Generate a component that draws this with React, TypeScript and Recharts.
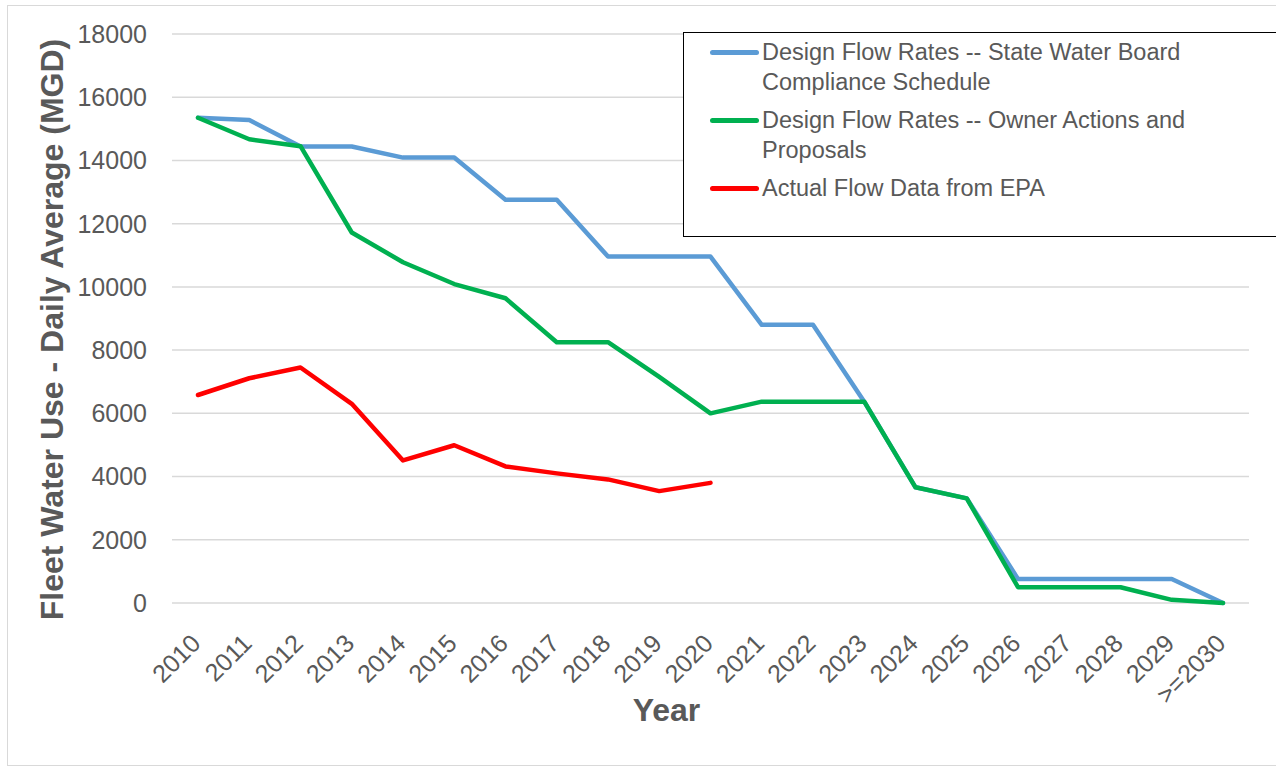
import { LineChart, Line, XAxis, YAxis, CartesianGrid, Label } from 'recharts';

const FONT = '"Liberation Sans", Arial, sans-serif';
const TEXT = '#595959';
const GRID = '#d9d9d9';

const YEARS = [
  '2010', '2011', '2012', '2013', '2014', '2015', '2016', '2017', '2018', '2019', '2020',
  '2021', '2022', '2023', '2024', '2025', '2026', '2027', '2028', '2029', '>=2030'
];

// Design Flow Rates -- State Water Board Compliance Schedule
const STATE_BOARD = [
  15350, 15280, 14440, 14440, 14090, 14090, 12760, 12760, 10960, 10960, 10960,
  8800, 8800, 6370, 3660, 3310, 760, 760, 760, 760, 0
];

// Design Flow Rates -- Owner Actions and Proposals
const OWNER_ACTIONS = [
  15350, 14670, 14450, 11720, 10780, 10090, 9640, 8250, 8250, 7150, 6000,
  6370, 6370, 6370, 3660, 3310, 500, 500, 500, 100, 0
];

// Actual Flow Data from EPA (ends in 2020)
const EPA_ACTUAL = [6580, 7110, 7450, 6300, 4510, 4990, 4320, 4100, 3910, 3540, 3800];

const Y_TICKS = [0, 2000, 4000, 6000, 8000, 10000, 12000, 14000, 16000, 18000];

const SERIES = [
  { key: 'stateBoard', name: 'Design Flow Rates -- State Water Board Compliance Schedule', color: '#5b9bd5' },
  { key: 'ownerActions', name: 'Design Flow Rates -- Owner Actions and Proposals', color: '#00b050' },
  { key: 'epa', name: 'Actual Flow Data from EPA', color: '#ff0000' }
];

const data = YEARS.map((year, i) => ({
  year,
  stateBoard: STATE_BOARD[i],
  ownerActions: OWNER_ACTIONS[i],
  epa: i < EPA_ACTUAL.length ? EPA_ACTUAL[i] : null
}));

function YearTick({ x, y, payload }: any) {
  const ax = x + 4;
  const ay = y + 34;
  return (
    <text
      x={ax} y={ay} textAnchor="end" fill={TEXT}
      fontSize={25} fontFamily={FONT}
      transform={`rotate(-45, ${ax}, ${ay})`}
    >
      {payload.value}
    </text>
  );
}

// legend drawn as a plain box so it does not shrink the plot area
function LegendBox() {
  return (
    <div style={{
      position: 'absolute', left: 683, top: 32, width: 620, height: 205,
      border: '1.5px solid #000', background: '#fff',
      boxSizing: 'border-box', paddingTop: 4, fontFamily: FONT, fontSize: 23.5, color: TEXT
    }}>
      {SERIES.map(s => (
        <div key={s.key} style={{ display: 'flex', alignItems: 'flex-start', marginBottom: 8 }}>
          <div style={{ width: 78, height: 30, position: 'relative', flex: 'none' }}>
            <div style={{
              position: 'absolute', left: 26, top: 13, width: 49, height: 5,
              borderRadius: 3, background: s.color
            }} />
          </div>
          <div style={{ width: 490, lineHeight: '30px' }}>{s.name}</div>
        </div>
      ))}
    </div>
  );
}

export default function App() {
  return (
    <div style={{
      position: 'absolute', left: 0, top: 0, width: 1276, height: 768,
      overflow: 'hidden', background: '#fff'
    }}>
      <div style={{
        position: 'absolute', left: 7, top: 5, width: 1300, height: 761,
        border: `1.5px solid ${GRID}`, boxSizing: 'border-box'
      }} />
      <LineChart
        width={1276} height={768} data={data}
        margin={{ top: 34, right: 27, left: 0, bottom: 0 }}
        style={{ position: 'absolute', left: 0, top: 0 }}
      >
        <CartesianGrid vertical={false} stroke={GRID} strokeWidth={1.5} />
        <XAxis
          dataKey="year" interval={0} height={165}
          padding={{ left: 26, right: 26 }}
          axisLine={false} tickLine={false} tick={<YearTick />}
        >
          <Label
            content={({ viewBox }: any) => (
              <text
                x={viewBox.x + viewBox.width / 2 - 44} y={viewBox.y + 107}
                textAnchor="middle" dominantBaseline="central"
                fill={TEXT} fontSize={32} fontWeight="bold" fontFamily={FONT}
              >
                Year
              </text>
            )}
          />
        </XAxis>
        <YAxis
          width={172} domain={[0, 18000]} ticks={Y_TICKS} interval={0}
          axisLine={false} tickLine={false} tickSize={6} tickMargin={19}
          tick={{ fill: TEXT, fontSize: 25, fontFamily: FONT }}
        >
          <Label
            content={({ viewBox }: any) => {
              const cx = 52;
              const cy = viewBox.y + viewBox.height / 2 + 11;
              return (
                <text
                  x={cx} y={cy} textAnchor="middle" dominantBaseline="central"
                  transform={`rotate(-90, ${cx}, ${cy})`}
                  fill={TEXT} fontSize={32} fontWeight="bold" fontFamily={FONT}
                >
                  Fleet Water Use - Daily Average (MGD)
                </text>
              );
            }}
          />
        </YAxis>
        {SERIES.map(s => (
          <Line
            key={s.key} type="linear" dataKey={s.key} name={s.name}
            stroke={s.color} strokeWidth={4.5} dot={false} activeDot={false}
            strokeLinejoin="round" strokeLinecap="round"
            isAnimationActive={false}
          />
        ))}
      </LineChart>
      <LegendBox />
    </div>
  );
}
